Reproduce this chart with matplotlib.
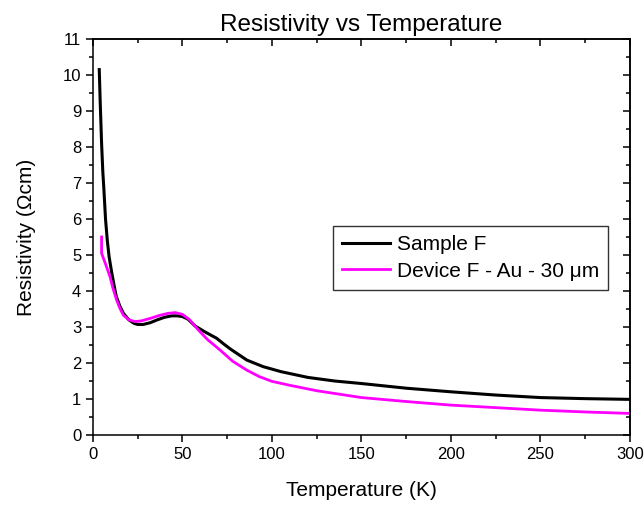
import matplotlib
matplotlib.use("Agg")
import matplotlib.pyplot as plt
from matplotlib.ticker import MultipleLocator

plt.rcParams['font.family'] = ['Liberation Sans', 'DejaVu Sans']

# Sample F (black)
t_sample = [3.5, 4.0, 4.8, 5.5, 6.0, 7.0, 8.0, 9.0, 10.5, 12, 13, 15, 17, 20, 23, 25, 28,
            32, 36, 40, 44, 47, 50, 53, 57, 62, 66, 69, 73, 77, 86, 95, 105, 120, 135, 150,
            175, 200, 225, 250, 275, 300]
r_sample = [10.15, 9.3, 8.1, 7.3, 6.9, 6.0, 5.4, 4.95, 4.5, 4.1, 3.85, 3.58, 3.38, 3.2, 3.1,
            3.07, 3.07, 3.12, 3.2, 3.27, 3.31, 3.31, 3.29, 3.22, 3.03, 2.88, 2.77, 2.69, 2.53,
            2.38, 2.08, 1.9, 1.76, 1.6, 1.5, 1.43, 1.3, 1.2, 1.11, 1.04, 1.01, 0.99]

# Device F - Au - 30 um (magenta)
t_device = [4.8, 4.8, 7, 9.5, 11, 13.2, 15, 17, 20, 23.5, 27, 32, 37, 42, 46, 50, 54, 58.8,
            64, 71, 78, 86, 93, 100, 110, 125, 150, 175, 200, 225, 250, 275, 300]
r_device = [5.5, 5.05, 4.75, 4.4, 4.1, 3.75, 3.52, 3.33, 3.2, 3.15, 3.17, 3.24, 3.32, 3.38,
            3.40, 3.35, 3.2, 2.92, 2.65, 2.36, 2.05, 1.8, 1.62, 1.49, 1.38, 1.23, 1.04, 0.93,
            0.83, 0.76, 0.69, 0.64, 0.6]

fig = plt.figure(figsize=(6.44, 5.05), dpi=100)
ax = fig.add_axes([0.1444, 0.1386, 0.8338, 0.7842])

ax.plot(t_sample, r_sample, color='black', lw=2.2, label='Sample F')
ax.plot(t_device, r_device, color='#ff00ff', lw=2.0, label='Device F - Au - 30 \u03bcm')

ax.set_xlim(0, 300)
ax.set_ylim(0, 11)
ax.xaxis.set_major_locator(MultipleLocator(50))
ax.xaxis.set_minor_locator(MultipleLocator(25))
ax.yaxis.set_major_locator(MultipleLocator(1))
ax.yaxis.set_minor_locator(MultipleLocator(0.5))

for s in ax.spines.values():
    s.set_linewidth(1.1)

ax.tick_params(which='both', direction='out', width=1.1, labelsize=12, top=False, right=False)
ax.tick_params(which='major', length=5)
ax.tick_params(which='minor', length=3)

secx = ax.secondary_xaxis('top')
secx.xaxis.set_major_locator(MultipleLocator(50))
secx.xaxis.set_minor_locator(MultipleLocator(25))
secx.tick_params(which='both', direction='in', width=1.1, labeltop=False)
secx.tick_params(which='major', length=5)
secx.tick_params(which='minor', length=3)
secy = ax.secondary_yaxis('right')
secy.yaxis.set_major_locator(MultipleLocator(1))
secy.yaxis.set_minor_locator(MultipleLocator(0.5))
secy.tick_params(which='both', direction='in', width=1.1, labelright=False)
secy.tick_params(which='major', length=5)
secy.tick_params(which='minor', length=3)
for sa in (secx, secy):
    for s in sa.spines.values():
        s.set_linewidth(1.1)

ax.set_xlabel('Temperature (K)', fontsize=15, labelpad=14)
ax.set_ylabel('Resistivity (\u03a9cm)', fontsize=15, labelpad=19)
ax.set_title('Resistivity vs Temperature', fontsize=17.5, pad=6)

leg = ax.legend(loc='upper left', bbox_to_anchor=(0.447, 0.528), borderaxespad=0,
                fontsize=15, frameon=True, fancybox=False, edgecolor='black',
                handlelength=2.3, handletextpad=0.3, borderpad=0.45, labelspacing=0.35)
leg.get_frame().set_linewidth(1.0)

fig.savefig('out.png', dpi=100)
